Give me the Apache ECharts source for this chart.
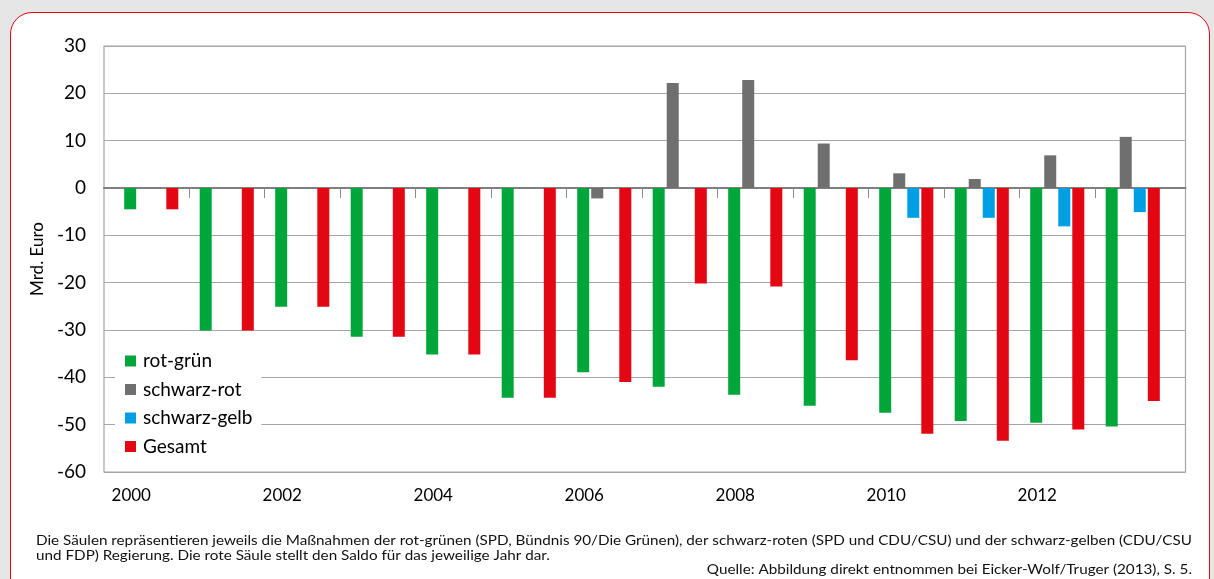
<!DOCTYPE html>
<html>
<head>
<meta charset="utf-8">
<script src="https://cdn.jsdelivr.net/npm/echarts@6/dist/echarts.min.js"></script>
<style>
  html, body { margin: 0; padding: 0; background: #e6e6e6; width: 1214px; height: 579px; overflow: hidden; }
  #card { position: absolute; left: 10px; top: 12px; width: 1198px; height: 620px; background: #fff;
          border: 1.5px solid #e30613; border-radius: 22px; }
  #chart { position: absolute; left: 0; top: 0; width: 1214px; height: 579px; }
</style>
</head>
<body>
<div id="card"></div>
<div id="chart"></div>
<script>
// ---- data ----
const years = ['2000','2001','2002','2003','2004','2005','2006','2007','2008','2009','2010','2011','2012','2013'];
const rotGruen    = [-4.5, -30.1, -25.1, -31.4, -35.2, -44.3, -38.9, -42.0, -43.7, -46.0, -47.5, -49.2, -49.6, -50.4];
const schwarzRot  = [null, null, null, null, null, null, -2.2, 22.2, 22.8, 9.4, 3.1, 1.9, 6.9, 10.8];
const schwarzGelb = [null, null, null, null, null, null, null, null, null, null, -6.3, -6.3, -8.1, -5.1];
const gesamt      = [-4.5, -30.1, -25.1, -31.4, -35.2, -44.3, -41.0, -20.2, -20.8, -36.4, -51.9, -53.4, -51.0, -45.0];
const seriesNames = ['rot-grün', 'schwarz-rot', 'schwarz-gelb', 'Gesamt'];
const yMin = -60, yMax = 30, yStep = 10;
const yTitle = 'Mrd. Euro';
const note1 = 'Die Säulen repräsentieren jeweils die Maßnahmen der rot-grünen (SPD, Bündnis 90/Die Grünen), der schwarz-roten (SPD und CDU/CSU) und der schwarz-gelben (CDU/CSU';
const note2 = 'und FDP) Regierung. Die rote Säule stellt den Saldo für das jeweilige Jahr dar.';
const note3 = 'Quelle: Abbildung direkt entnommen bei Eicker-Wolf/Truger (2013), S. 5.';

// ---- styling / layout ----
const FONT = 'Lato, "Open Sans", sans-serif';
const colors = ['#00a63a', '#6f6f6f', '#009fe3', '#e30613'];
const catLeft = 113.5, catRight = 43.5;
const bandW = (1214 - catLeft - catRight) / years.length;

const noteFont = '13px Lato';
const cv = document.createElement('canvas').getContext('2d');
cv.font = noteFont;
const sx = 1156 / cv.measureText(note1).width;

const chart = echarts.init(document.getElementById('chart'), null, { renderer: 'canvas' });
const option = {
  animation: false,
  backgroundColor: 'transparent',
  textStyle: { fontFamily: FONT },
  grid: [
    { left: 104, right: 28.5, top: 46, bottom: 107, show: true, borderColor: '#a6a6a6', borderWidth: 1.2, backgroundColor: 'transparent' },
    { left: catLeft, right: catRight, top: 46, bottom: 107 },
    // inner category boundaries only (ticks between years)
    { left: catLeft + bandW, right: catRight + bandW, top: 46, bottom: 107 }
  ],
  xAxis: [
    { gridIndex: 0, type: 'value', min: 0, max: 1, axisLabel: { show: false }, axisTick: { show: false }, splitLine: { show: false },
      axisLine: { show: true, onZero: true, lineStyle: { color: '#7f7f7f', width: 2 } } },
    { gridIndex: 1, type: 'category', data: years, position: 'bottom',
      axisLine: { show: false, onZero: false }, axisTick: { show: false },
      axisLabel: { interval: 1, fontSize: 17, color: '#000', margin: 15, fontFamily: FONT, padding: [0, 40, 0, 0] } },
    { gridIndex: 2, type: 'category', data: years.slice(1, years.length - 1), position: 'bottom',
      axisLine: { show: false, onZero: true },
      axisTick: { show: true, length: 10, interval: 0, lineStyle: { color: '#8c8c8c', width: 1 } },
      axisLabel: { show: false } }
  ],
  yAxis: [
    { gridIndex: 0, type: 'value', min: yMin, max: yMax, interval: yStep,
      name: yTitle, nameLocation: 'middle', nameGap: 58, nameRotate: 90,
      nameTextStyle: { fontSize: 17, color: '#000', fontFamily: FONT },
      axisLine: { show: false }, axisTick: { show: false },
      axisLabel: { fontSize: 19, color: '#000', margin: 18, fontFamily: FONT },
      splitLine: { show: true, lineStyle: { color: '#a6a6a6', width: 1.2 } } },
    { gridIndex: 1, type: 'value', min: yMin, max: yMax, interval: yStep, show: false },
    { gridIndex: 2, type: 'value', min: yMin, max: yMax, interval: yStep,
      axisLine: { show: false }, axisTick: { show: false }, axisLabel: { show: false }, splitLine: { show: false } }
  ],
  legend: {
    orient: 'vertical', left: 115, top: 340,
    padding: [11, 9, 12, 10], backgroundColor: '#fff',
    icon: 'rect', itemWidth: 11, itemHeight: 11, itemGap: 8.5,
    textStyle: { fontSize: 19, lineHeight: 20, color: '#000', fontFamily: FONT, padding: [0, 0, 0, 2] },
    data: seriesNames
  },
  series: [
    { name: seriesNames[0], type: 'bar', xAxisIndex: 1, yAxisIndex: 1, data: rotGruen, barWidth: 12, barGap: '17%', itemStyle: { color: colors[0] } },
    { name: seriesNames[1], type: 'bar', xAxisIndex: 1, yAxisIndex: 1, data: schwarzRot, barWidth: 12, barGap: '17%', itemStyle: { color: colors[1] } },
    { name: seriesNames[2], type: 'bar', xAxisIndex: 1, yAxisIndex: 1, data: schwarzGelb, barWidth: 12, barGap: '17%', itemStyle: { color: colors[2] } },
    { name: seriesNames[3], type: 'bar', xAxisIndex: 1, yAxisIndex: 1, data: gesamt, barWidth: 12, barGap: '17%', itemStyle: { color: colors[3] } }
  ],
  graphic: [
    { type: 'text', x: 36, y: 541, scaleX: sx, style: { text: note1, font: noteFont, fill: '#111', textAlign: 'left', textVerticalAlign: 'middle' } },
    { type: 'text', x: 36, y: 555.5, scaleX: sx, style: { text: note2, font: noteFont, fill: '#111', textAlign: 'left', textVerticalAlign: 'middle' } },
    { type: 'text', x: 1192, y: 570, scaleX: sx, style: { text: note3, font: noteFont, fill: '#111', textAlign: 'right', textVerticalAlign: 'middle' } }
  ]
};
chart.setOption(option);
</script>
</body>
</html>
